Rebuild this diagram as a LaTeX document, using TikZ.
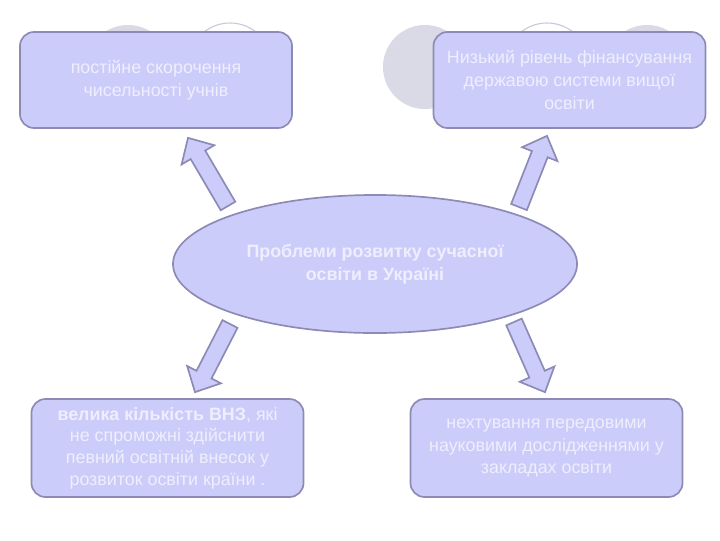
\documentclass[tikz,border=0pt]{standalone}
\usepackage{fontspec}
\setmainfont{Liberation Sans}
\usepackage{tikz}
\usetikzlibrary{calc, shapes.geometric}

\definecolor{boxfill}{HTML}{CCCCFA}
\definecolor{boxline}{HTML}{8D8BB5}
\definecolor{boxtext}{HTML}{EEEEFF}
\definecolor{discfill}{HTML}{DADAE6}
\definecolor{discline}{HTML}{CACADA}

\tikzstyle{problem} = [
  rectangle, draw=boxline, fill=boxfill, line width=1.2pt,
  minimum width=6.8cm, minimum height=2.4cm,
  rounded corners=10pt, align=center, text=boxtext,
  font=\fontsize{12.7}{16.3}\selectfont
]
\tikzstyle{core} = [
  ellipse, draw=boxline, fill=boxfill, line width=1.2pt,
  minimum width=10.1cm, minimum height=3.45cm,
  align=center, text=boxtext,
  font=\fontsize{12.7}{16.3}\selectfont\bfseries
]
\tikzstyle{fatarrow} = [draw=boxline, fill=boxfill, line width=1.2pt, line join=miter]
\tikzstyle{disc} = [circle, minimum size=2.1cm, line width=0.8pt]

% block arrow from tail #2 to tip #3
\newcommand{\fatarrow}[3]{%
  \coordinate (#1-a) at #2;
  \coordinate (#1-b) at #3;
  \coordinate (#1-h) at ($(#1-b)!14pt!(#1-a)$);
  \draw[fatarrow] ($(#1-a)!6pt!90:(#1-b)$) -- ($(#1-h)!6pt!90:(#1-b)$)
    -- ($(#1-h)!13.5pt!90:(#1-b)$) -- (#1-b)
    -- ($(#1-h)!13.5pt!-90:(#1-b)$) -- ($(#1-h)!6pt!-90:(#1-b)$)
    -- ($(#1-a)!6pt!-90:(#1-b)$) -- cycle;
}

\begin{document}
\begin{tikzpicture}[x=0.025cm, y=-0.025cm]
  \useasboundingbox (0,0) rectangle (720,540);

  % Background discs
  \foreach \x in {128, 425, 647}
    \node[disc, fill=discfill] (d\x) at (\x, 67) {};
  \foreach \x in {230, 547}
    \node[disc, draw=discline, fill=white] (d\x) at (\x, 65) {};

  % Problems
  \node[problem] (tl) at (156, 80) {постійне скорочення\\чисельності учнів};
  \node[problem] (tr) at (569.5, 80) {Низький рівень фінансування\\державою системи вищої\\освіти};
  \node[problem, minimum height=2.45cm, font=\fontsize{12.7}{15.4}\selectfont] (bl) at (167.5, 448)
    {\textbf{велика кількість ВНЗ}, які\\не спроможні здійснити\\певний освітній внесок у\\розвиток освіти країни .};
  \node[problem, minimum height=2.45cm] (br) at (546.5, 448)
    {нехтування передовими\\науковими дослідженнями у\\закладах освіти};

  % Centre
  \node[core] (prob) at (375, 264) {Проблеми розвитку сучасної\\освіти в Україні};

  % Arrows
  \fatarrow{atl}{($(prob.center)+(-147,-58)$)}{($(tl.south)+(32,9)$)}
  \fatarrow{atr}{($(prob.center)+(144,-57)$)}{($(tr.south)+(-22.5,7)$)}
  \fatarrow{abl}{($(prob.center)+(-145,60)$)}{($(bl.north)+(27.5,-6)$)}
  \fatarrow{abr}{($(prob.center)+(139,58)$)}{($(br.north)+(-1.5,-6)$)}

\end{tikzpicture}
\end{document}
